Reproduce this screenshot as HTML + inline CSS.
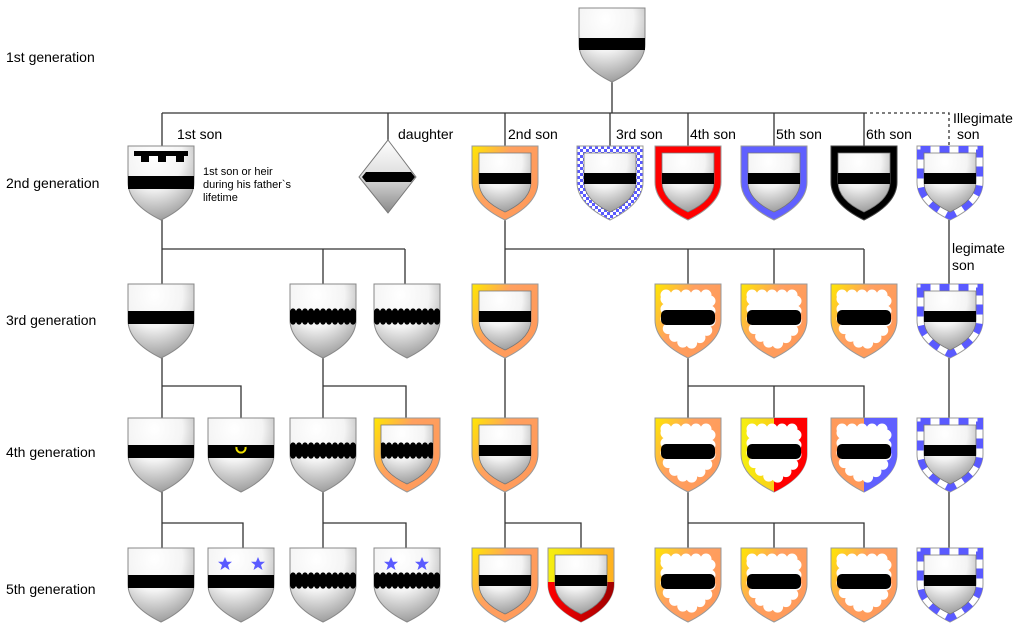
<!DOCTYPE html>
<html><head><meta charset="utf-8"><style>
html,body{margin:0;padding:0;background:#fff}
svg{display:block}
text{font-family:"Liberation Sans",sans-serif;fill:#000}
</style></head><body>
<svg width="1024" height="632" viewBox="0 0 1024 632" xmlns="http://www.w3.org/2000/svg">
<defs>
<radialGradient id="sv" cx="0.4" cy="0.15" r="0.95">
<stop offset="0" stop-color="#fff"/><stop offset="0.45" stop-color="#f4f4f4"/><stop offset="1" stop-color="#8a8a8a"/></radialGradient>
<linearGradient id="bo" x1="0" y1="0" x2="1" y2="0.6">
<stop offset="0" stop-color="#ffe800"/><stop offset="0.45" stop-color="#ffa060"/><stop offset="1" stop-color="#ff9a5a"/></linearGradient>
<linearGradient id="bo2" x1="0" y1="0" x2="1" y2="0">
<stop offset="0" stop-color="#f5f010"/><stop offset="1" stop-color="#ffb020"/></linearGradient>
<linearGradient id="rd" x1="0" y1="0" x2="1" y2="0">
<stop offset="0" stop-color="#ff0000"/><stop offset="1" stop-color="#a00000"/></linearGradient>
<pattern id="ck" patternUnits="userSpaceOnUse" width="6" height="6">
<rect width="6" height="6" fill="#fff"/><rect width="3" height="3" fill="#5a5aff"/><rect x="3" y="3" width="3" height="3" fill="#5a5aff"/></pattern>
<pattern id="wv" patternUnits="userSpaceOnUse" x="0" y="24" width="6" height="17">
<rect y="2.5" width="6" height="12" fill="#000"/><circle cx="3" cy="3" r="2.6" fill="#000"/><circle cx="3" cy="14" r="2.6" fill="#000"/></pattern>
<path id="sh" d="M0,0 H66 V36 Q66 58 33 74 Q0 58 0 36 Z"/>
<path id="in" d="M7,7 H59 V36 Q59 54 33 66 Q7 54 7 36 Z"/>
<path id="mid" d="M3.5,3.5 H62.5 V36 Q62.5 56 33 70 Q3.5 56 3.5 36 Z"/>
<path id="cl" d="M11,11 H55 V36 Q55 50 33 61 Q11 50 11 36 Z"/>
<clipPath id="csh"><use href="#sh"/></clipPath>
<clipPath id="cin"><use href="#in"/></clipPath>
<g id="plain"><use href="#sh" fill="url(#sv)" stroke="#888"/><rect x="0" y="27" width="66" height="13"/></g>
<g id="wavy"><use href="#sh" fill="url(#sv)" stroke="#888"/><rect x="0" y="24" width="66" height="17" fill="url(#wv)" clip-path="url(#csh)"/></g>
<g id="binner"><use href="#in" fill="url(#sv)" stroke="#777" stroke-width="0.8"/><rect x="7" y="27" width="52" height="11"/></g>
<g id="obord"><use href="#sh" fill="url(#bo)" stroke="#999"/><use href="#binner"/></g>
<g id="comp"><use href="#sh" fill="#fff" stroke="#999"/><use href="#mid" fill="none" stroke="#5a5aff" stroke-width="7" stroke-dasharray="10 9" clip-path="url(#csh)"/><use href="#binner"/></g>
<g id="cloudin"><use href="#cl" fill="#fff" stroke="#fff" stroke-width="11" stroke-dasharray="0 10" stroke-linecap="round"/><use href="#cl" fill="#fff"/><rect x="6" y="26" width="54" height="15" rx="5"/></g>
<g id="cloud"><use href="#sh" fill="url(#bo)" stroke="#999"/><use href="#cloudin"/></g>
<path id="star" d="M0,-7 L2,-2.2 7,-2.2 3,1 4.5,6 0,3 -4.5,6 -3,1 -7,-2.2 -2,-2.2Z" fill="#5a5aff"/>
<linearGradient id="dg" x1="0" y1="0" x2="0" y2="1"><stop offset="0" stop-color="#fff"/><stop offset="0.5" stop-color="#ddd"/><stop offset="1" stop-color="#888"/></linearGradient>
</defs>

<g fill="none" stroke="#333" stroke-width="1.3">
<path d="M612,82V113 M162,113H864 M162,113V146 M388,113V140 M505,113V146 M610,113V146 M688,113V146 M774,113V146 M864,113V146"/>
<path d="M864,113H949V146" stroke-dasharray="3 3"/>
<path d="M162,218V284 M162,249H405 M323,249V284 M405,249V284 M505,218V284 M505,249H864 M688,249V284 M774,249V284 M864,249V284 M949,218V284"/>
<path d="M162,356V418 M162,386H241V418 M323,356V418 M323,386H406V418 M505,356V418 M688,356V418 M688,386H864V418 M774,386V418 M949,356V418"/>
<path d="M162,490V548 M162,523H243V548 M323,490V548 M323,523H406V548 M505,490V548 M505,523H581V548 M688,490V548 M688,523H864V548 M774,523V548 M949,490V548"/>
</g>

<g transform="translate(579,8)"><use href="#sh" fill="url(#sv)" stroke="#888"/><rect x="0" y="30" width="66" height="12"/></g>

<g transform="translate(128,146)"><use href="#sh" fill="url(#sv)" stroke="#888"/><rect x="0" y="30" width="66" height="13"/>
<path d="M6,5H60V10H56V16H48V10H38V16H30V10H21V16H13V10H6Z"/></g>
<path d="M388,140 L416,177 388,213 359,177Z" fill="url(#dg)" stroke="#777"/>
<path d="M366,172 H411 L415,177 411,182 H366 L362,177Z"/>
<g transform="translate(472,146)"><use href="#obord"/></g>
<g transform="translate(577,146)"><use href="#sh" fill="url(#ck)" stroke="#999"/><use href="#binner"/></g>
<g transform="translate(655,146)"><use href="#sh" fill="#f00" stroke="#999"/><use href="#binner"/></g>
<g transform="translate(741,146)"><use href="#sh" fill="#6060ff" stroke="#999"/><use href="#binner"/></g>
<g transform="translate(831,146)"><use href="#sh" fill="#000" stroke="#444"/><use href="#binner"/></g>
<g transform="translate(917,146)"><use href="#comp"/></g>

<g transform="translate(128,284)"><use href="#plain"/></g>
<g transform="translate(290,284)"><use href="#wavy"/></g>
<g transform="translate(374,284)"><use href="#wavy"/></g>
<g transform="translate(472,284)"><use href="#obord"/></g>
<g transform="translate(655,284)"><use href="#cloud"/></g>
<g transform="translate(741,284)"><use href="#cloud"/></g>
<g transform="translate(831,284)"><use href="#cloud"/></g>
<g transform="translate(917,284)"><use href="#comp"/></g>

<g transform="translate(128,418)"><use href="#plain"/></g>
<g transform="translate(208,418)"><use href="#plain"/><path d="M28.5,29 A4.6,4.6 0 1 0 37.5,29" fill="none" stroke="#f0e000" stroke-width="2"/></g>
<g transform="translate(290,418)"><use href="#wavy"/></g>
<g transform="translate(374,418)"><use href="#sh" fill="url(#bo)" stroke="#999"/><use href="#in" fill="url(#sv)" stroke="#777" stroke-width="0.8"/><rect x="7" y="24" width="52" height="17" fill="url(#wv)" clip-path="url(#cin)"/></g>
<g transform="translate(472,418)"><use href="#obord"/></g>
<g transform="translate(655,418)"><use href="#cloud"/></g>
<g transform="translate(741,418)"><use href="#sh" fill="url(#bo2)" stroke="#999"/><rect x="33" y="0" width="33" height="74" fill="#f00" clip-path="url(#csh)"/><use href="#cloudin"/></g>
<g transform="translate(831,418)"><use href="#sh" fill="#ff9a5a" stroke="#999"/><rect x="33" y="0" width="33" height="74" fill="#6060ff" clip-path="url(#csh)"/><use href="#cloudin"/></g>
<g transform="translate(917,418)"><use href="#comp"/></g>

<g transform="translate(128,548)"><use href="#plain"/></g>
<g transform="translate(208,548)"><use href="#plain"/><use href="#star" x="17" y="16"/><use href="#star" x="50" y="16"/></g>
<g transform="translate(290,548)"><use href="#wavy"/></g>
<g transform="translate(374,548)"><use href="#wavy"/><use href="#star" x="17" y="16"/><use href="#star" x="48" y="16"/></g>
<g transform="translate(472,548)"><use href="#obord"/></g>
<g transform="translate(548,548)"><use href="#sh" fill="url(#bo2)" stroke="#999"/><rect x="0" y="34" width="66" height="40" fill="url(#rd)" clip-path="url(#csh)"/><use href="#binner"/></g>
<g transform="translate(655,548)"><use href="#cloud"/></g>
<g transform="translate(741,548)"><use href="#cloud"/></g>
<g transform="translate(831,548)"><use href="#cloud"/></g>
<g transform="translate(917,548)"><use href="#comp"/></g>

<g font-size="14">
<text x="6" y="62">1st generation</text>
<text x="6" y="188">2nd generation</text>
<text x="6" y="325">3rd generation</text>
<text x="6" y="457">4th generation</text>
<text x="6" y="594">5th generation</text>
<text x="177" y="139">1st son</text>
<text x="398" y="139">daughter</text>
<text x="508" y="139">2nd son</text>
<text x="616" y="139">3rd son</text>
<text x="690" y="139">4th son</text>
<text x="776" y="139">5th son</text>
<text x="866" y="139">6th son</text>
<text x="953" y="123">Illegimate</text>
<text x="957" y="139">son</text>
<text x="952" y="253">legimate</text>
<text x="952" y="270">son</text>
</g>
<g font-size="11">
<text x="203" y="175">1st son or heir</text>
<text x="203" y="188">during his father`s</text>
<text x="203" y="201">lifetime</text>
</g>
</svg>
</body></html>
